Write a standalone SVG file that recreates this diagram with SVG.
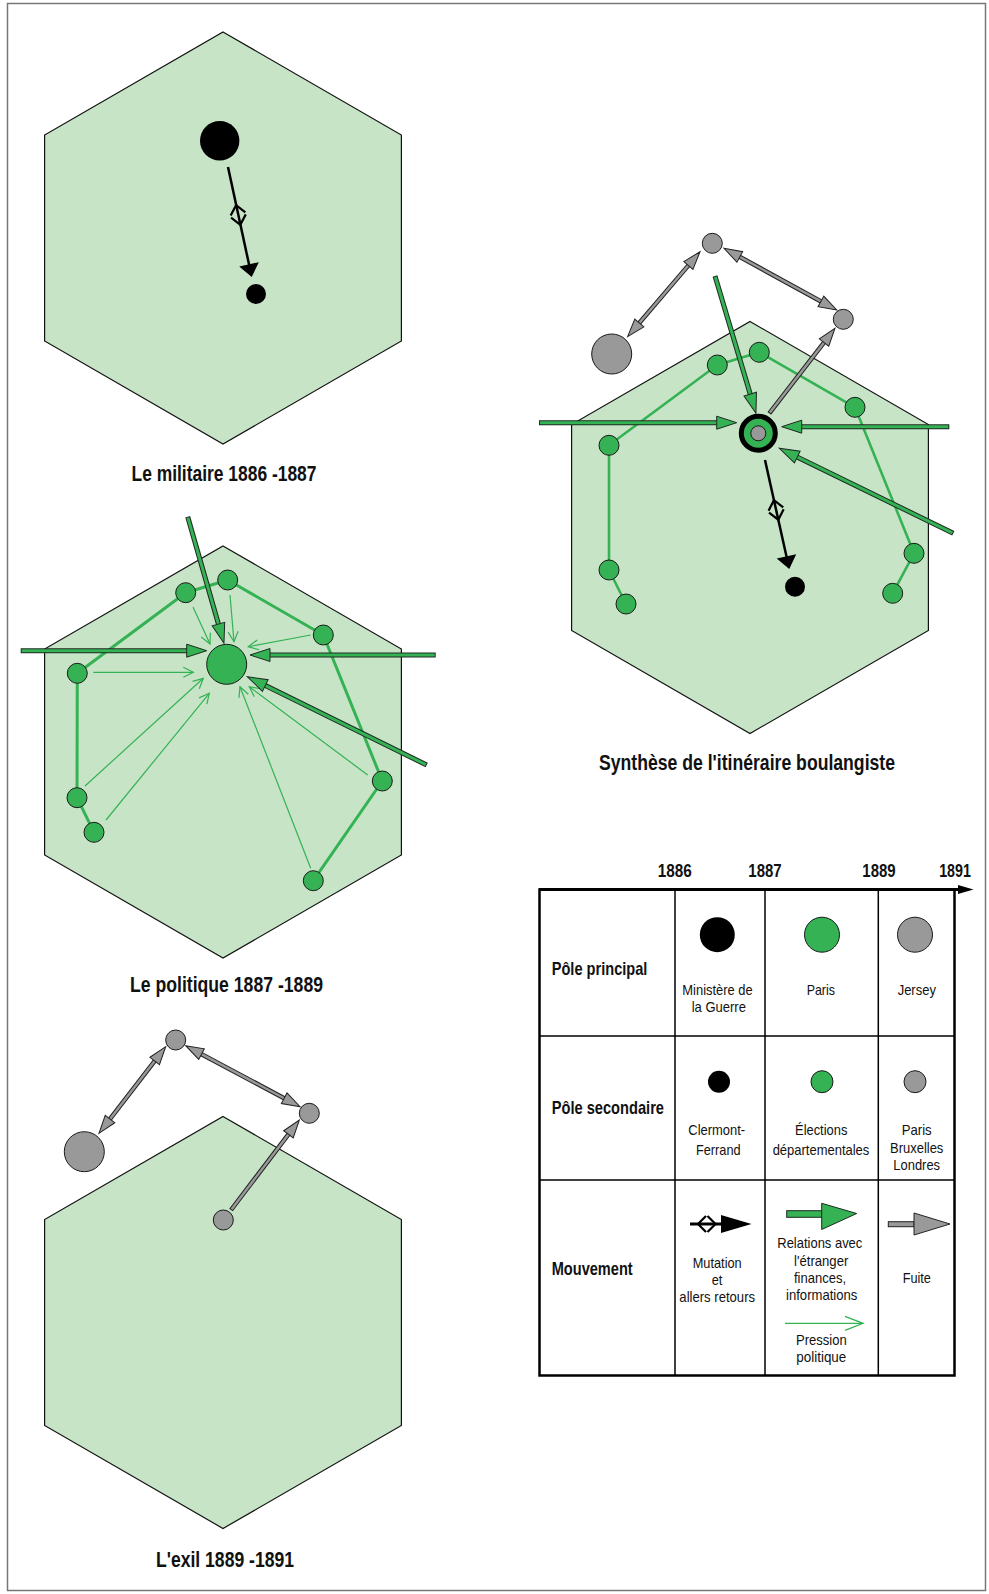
<svg xmlns="http://www.w3.org/2000/svg" width="989" height="1594" viewBox="0 0 989 1594">
<style>
.hex{fill:#c7e4c7;stroke:#111;stroke-width:1.2}
.gpoly{fill:none;stroke:#34b254;stroke-width:3;stroke-linejoin:round}
.gc{fill:#34b254;stroke:#1a1a1a;stroke-width:1}
.gr{fill:#999;stroke:#1a1a1a;stroke-width:1}
.bk{fill:#000}
.thickO{stroke:#1f2a22;stroke-width:5;fill:none}
.thickI{stroke:#34b254;stroke-width:3;fill:none}
.grayO{stroke:#222;stroke-width:4.5;fill:none}
.grayI{stroke:#999;stroke-width:2.5;fill:none}
.thin{stroke:#34b254;stroke-width:1.2;fill:none}
.blk{stroke:#000;stroke-width:2.5;fill:none}
.chev{stroke:#000;stroke-width:2.2;fill:none}
text{font-family:"Liberation Sans",Arial,sans-serif;fill:#111}
.title{font-weight:bold;font-size:22px;text-anchor:middle}
.rowh{font-weight:bold;font-size:18.5px}
.yr{font-weight:bold;font-size:18.5px;text-anchor:middle}
.lbl{font-size:15px;text-anchor:middle}
</style>
<defs>
<marker id="mG" markerUnits="userSpaceOnUse" orient="auto" refX="10" refY="0" markerWidth="30" markerHeight="30" overflow="visible"><path d="M0,-6.5 L20,0 L0,6.5 z" fill="#34b254" stroke="#1f2a22" stroke-width="1"/></marker>
<marker id="mGr" markerUnits="userSpaceOnUse" orient="auto-start-reverse" refX="9" refY="0" markerWidth="30" markerHeight="30" overflow="visible"><path d="M0,-6 L18,0 L0,6 z" fill="#999" stroke="#222" stroke-width="1"/></marker>
<marker id="mB" markerUnits="userSpaceOnUse" orient="auto" refX="9" refY="0" markerWidth="30" markerHeight="30" overflow="visible"><path d="M0,-10 L13,0 L0,10 z" fill="#000"/></marker>
<marker id="mT" markerUnits="userSpaceOnUse" orient="auto" refX="10" refY="0" markerWidth="30" markerHeight="30" overflow="visible"><path d="M0,-5 L10,0 L0,5" fill="none" stroke="#34b254" stroke-width="1.2"/></marker>
</defs>
<rect x="7.5" y="3.5" width="978" height="1587" fill="#fff" stroke="#777" stroke-width="1.5"/>

<!-- Panel 1: Le militaire -->
<g id="panel-militaire">
<polygon class="hex" points="223,32 401.4,135 401.4,341 223,444 44.6,341 44.6,135"/>
<g id="m-connectors">
<line class="blk" x1="228" y1="167" x2="250.9" y2="273.1" marker-end="url(#mB)"/>
<g transform="translate(238,214) rotate(77.8)"><path class="chev" d="M0,-7.5 L-9,0 L0,7.5 M2,-7.5 L11,0 L2,7.5"/></g>
</g>
<circle id="m-ministere" class="bk" cx="219.7" cy="140.7" r="19.7"/>
<circle id="m-clermont" class="bk" cx="256" cy="294" r="10"/>
<text class="title" x="224" y="481" textLength="185" lengthAdjust="spacingAndGlyphs">Le militaire 1886 -1887</text>
</g>

<!-- Panel 2: Le politique -->
<g id="panel-politique">
<polygon class="hex" points="223,546 401.4,649 401.4,855 223,958 44.6,855 44.6,649"/>
<polyline class="gpoly" points="94,832.3 77,797.7 77.3,673.3 185.7,592.7 227.7,580 323.3,635 382.3,781 313.3,880.7"/>
<g id="p-connectors">
<line class="thin" x1="193" y1="607" x2="210" y2="644" marker-end="url(#mT)"/>
<line class="thin" x1="230" y1="595" x2="234" y2="641.7" marker-end="url(#mT)"/>
<line class="thin" x1="310.7" y1="635" x2="248.3" y2="646.7" marker-end="url(#mT)"/>
<line class="thin" x1="93.3" y1="672.3" x2="193.3" y2="672.3" marker-end="url(#mT)"/>
<line class="thin" x1="85" y1="786" x2="203.3" y2="678.3" marker-end="url(#mT)"/>
<line class="thin" x1="106" y1="820" x2="209.3" y2="693.3" marker-end="url(#mT)"/>
<line class="thin" x1="367.7" y1="775" x2="249.3" y2="686.7" marker-end="url(#mT)"/>
<line class="thin" x1="310.7" y1="868.3" x2="240" y2="686.7" marker-end="url(#mT)"/>
<line class="thickO" x1="187.7" y1="516.7" x2="221.2" y2="633.7"/>
<line class="thickI" x1="187.9" y1="517.6" x2="221.2" y2="633.7" marker-end="url(#mG)"/>
<line class="thickO" x1="20.7" y1="650.7" x2="196.7" y2="650.7"/>
<line class="thickI" x1="21.7" y1="650.7" x2="196.7" y2="650.7" marker-end="url(#mG)"/>
<line class="thickO" x1="435.7" y1="655" x2="260" y2="655"/>
<line class="thickI" x1="434.7" y1="655" x2="260" y2="655" marker-end="url(#mG)"/>
<line class="thickO" x1="426.7" y1="765" x2="256.3" y2="681.1"/>
<line class="thickI" x1="425.8" y1="764.6" x2="256.3" y2="681.1" marker-end="url(#mG)"/>
</g>
<circle id="p-paris" class="gc" cx="226.7" cy="664.3" r="20"/>
<circle class="gc" cx="185.7" cy="592.7" r="10"/>
<circle class="gc" cx="227.7" cy="580" r="10"/>
<circle class="gc" cx="323.3" cy="635" r="10"/>
<circle class="gc" cx="77.3" cy="673.3" r="10"/>
<circle class="gc" cx="77" cy="797.7" r="10"/>
<circle class="gc" cx="94" cy="832.3" r="10"/>
<circle class="gc" cx="382.3" cy="781" r="10"/>
<circle class="gc" cx="313.3" cy="880.7" r="10"/>
<text class="title" x="226.5" y="992" textLength="193" lengthAdjust="spacingAndGlyphs">Le politique 1887 -1889</text>
</g>

<!-- Panel 3: Synthese -->
<g id="panel-synthese">
<polygon class="hex" points="750,321.5 928.4,424.5 928.4,630.5 750,733.5 571.6,630.5 571.6,424.5"/>
<polyline class="gpoly" style="stroke-width:2.6" points="626,604 609,570 609,445.3 717.3,365 759.3,352.3 855,407.3 914,553.3 892.7,593.3"/>
<g id="s-connectors">
<line class="grayO" x1="633.5" y1="329.8" x2="694.2" y2="258.6"/>
<line class="grayI" x1="633.5" y1="329.8" x2="694.2" y2="258.6" marker-start="url(#mGr)" marker-end="url(#mGr)"/>
<line class="grayO" x1="731.9" y1="252.6" x2="828.8" y2="305.7"/>
<line class="grayI" x1="731.9" y1="252.6" x2="828.8" y2="305.7" marker-start="url(#mGr)" marker-end="url(#mGr)"/>
<line class="grayO" x1="769.3" y1="413.3" x2="829.5" y2="335.4"/>
<line class="grayI" x1="769.9" y1="412.5" x2="829.5" y2="335.4" marker-end="url(#mGr)"/>
<line class="thickO" x1="715" y1="276" x2="753.1" y2="403.7"/>
<line class="thickI" x1="715.3" y1="277" x2="753.1" y2="403.7" marker-end="url(#mG)"/>
<line class="thickO" x1="539" y1="422.7" x2="726.7" y2="422.7"/>
<line class="thickI" x1="540" y1="422.7" x2="726.7" y2="422.7" marker-end="url(#mG)"/>
<line class="thickO" x1="949.3" y1="426.7" x2="791.7" y2="426.7"/>
<line class="thickI" x1="948.3" y1="426.7" x2="791.7" y2="426.7" marker-end="url(#mG)"/>
<line class="thickO" x1="953.3" y1="533.3" x2="788.3" y2="452.7"/>
<line class="thickI" x1="952.4" y1="532.9" x2="788.3" y2="452.7" marker-end="url(#mG)"/>
<line class="blk" x1="765" y1="460" x2="788.4" y2="565.1" marker-end="url(#mB)"/>
<g transform="translate(775.9,509) rotate(77.4)"><path class="chev" d="M0,-7.5 L-9,0 L0,7.5 M2,-7.5 L11,0 L2,7.5"/></g>
</g>
<circle class="gr" cx="712.3" cy="243.3" r="10"/>
<circle class="gr" cx="843.3" cy="319.3" r="10"/>
<circle class="gr" cx="611.7" cy="354" r="20"/>
<circle class="gc" cx="717.3" cy="365" r="10"/>
<circle class="gc" cx="759.3" cy="352.3" r="10"/>
<circle class="gc" cx="855" cy="407.3" r="10"/>
<circle class="gc" cx="609" cy="445.3" r="10"/>
<circle class="gc" cx="609" cy="570" r="10"/>
<circle class="gc" cx="626" cy="604" r="10"/>
<circle class="gc" cx="914" cy="553.3" r="10"/>
<circle class="gc" cx="892.7" cy="593.3" r="10"/>
<g id="s-center">
<circle cx="758.3" cy="433.3" r="17" fill="#34b254" stroke="#000" stroke-width="5"/>
<circle class="gr" cx="758.3" cy="433.3" r="7.5"/>
</g>
<circle class="bk" cx="795" cy="586.7" r="10"/>
<text class="title" x="747" y="770" textLength="296" lengthAdjust="spacingAndGlyphs">Synthèse de l'itinéraire boulangiste</text>
</g>

<!-- Panel 4: L'exil -->
<g id="panel-exil">
<polygon class="hex" points="223,1116.5 401.4,1219.5 401.4,1425.5 223,1528.5 44.6,1425.5 44.6,1219.5"/>
<g id="e-connectors">
<line class="grayO" x1="104.5" y1="1126.2" x2="160.2" y2="1053.8"/>
<line class="grayI" x1="104.5" y1="1126.2" x2="160.2" y2="1053.8" marker-start="url(#mGr)" marker-end="url(#mGr)"/>
<line class="grayO" x1="193.6" y1="1049.9" x2="292.1" y2="1102.5"/>
<line class="grayI" x1="193.6" y1="1049.9" x2="292.1" y2="1102.5" marker-start="url(#mGr)" marker-end="url(#mGr)"/>
<line class="grayO" x1="231" y1="1210" x2="293.9" y2="1127.2"/>
<line class="grayI" x1="231.6" y1="1209.2" x2="293.9" y2="1127.2" marker-end="url(#mGr)"/>
</g>
<circle class="gr" cx="175.7" cy="1040" r="10"/>
<circle class="gr" cx="309.3" cy="1113.3" r="10"/>
<circle class="gr" cx="84.3" cy="1151.7" r="20"/>
<circle class="gr" cx="223.3" cy="1220" r="10"/>
<text class="title" x="225" y="1567" textLength="138" lengthAdjust="spacingAndGlyphs">L'exil 1889 -1891</text>
</g>

<!-- Legend -->
<g id="legend">
<text class="yr" x="674.7" y="877.3" textLength="34" lengthAdjust="spacingAndGlyphs">1886</text>
<text class="yr" x="765" y="877.3" textLength="33.3" lengthAdjust="spacingAndGlyphs">1887</text>
<text class="yr" x="879" y="877.3" textLength="33.3" lengthAdjust="spacingAndGlyphs">1889</text>
<text class="yr" x="955" y="877.3" textLength="31.7" lengthAdjust="spacingAndGlyphs">1891</text>
<rect x="539.5" y="889.5" width="415" height="486" fill="none" stroke="#000" stroke-width="2.5"/>
<line x1="539" y1="889.5" x2="960" y2="889.5" stroke="#000" stroke-width="3"/>
<polygon points="958,885 973.5,889.5 958,894" fill="#000"/>
<g stroke="#000" stroke-width="1.5">
<line x1="675" y1="889.5" x2="675" y2="1375.5"/>
<line x1="765" y1="889.5" x2="765" y2="1375.5"/>
<line x1="878.3" y1="889.5" x2="878.3" y2="1375.5"/>
<line x1="539.5" y1="1036" x2="954.5" y2="1036"/>
<line x1="539.5" y1="1180" x2="954.5" y2="1180"/>
</g>
<text class="rowh" x="551.7" y="975" textLength="95.7" lengthAdjust="spacingAndGlyphs">Pôle principal</text>
<text class="rowh" x="551.7" y="1114" textLength="112.3" lengthAdjust="spacingAndGlyphs">Pôle secondaire</text>
<text class="rowh" x="551.7" y="1275" textLength="81" lengthAdjust="spacingAndGlyphs">Mouvement</text>

<circle class="bk" cx="717.3" cy="934.7" r="17.5"/>
<circle class="gc" cx="822" cy="934.7" r="17.5"/>
<circle class="gr" cx="915" cy="934.7" r="17.5"/>
<text class="lbl" x="717.5" y="995" textLength="70.3" lengthAdjust="spacingAndGlyphs">Ministère de</text>
<text class="lbl" x="718.8" y="1011.7" textLength="54.3" lengthAdjust="spacingAndGlyphs">la Guerre</text>
<text class="lbl" x="820.8" y="995" textLength="28.3" lengthAdjust="spacingAndGlyphs">Paris</text>
<text class="lbl" x="916.8" y="995" textLength="38.3" lengthAdjust="spacingAndGlyphs">Jersey</text>

<circle class="bk" cx="719" cy="1081.7" r="11"/>
<circle class="gc" cx="822" cy="1081.7" r="11"/>
<circle class="gr" cx="915" cy="1081.7" r="11"/>
<text class="lbl" x="716.7" y="1135" textLength="56.7" lengthAdjust="spacingAndGlyphs">Clermont-</text>
<text class="lbl" x="718.3" y="1154.5" textLength="44.7" lengthAdjust="spacingAndGlyphs">Ferrand</text>
<text class="lbl" x="821.2" y="1135" textLength="52.3" lengthAdjust="spacingAndGlyphs">Élections</text>
<text class="lbl" x="821" y="1154.5" textLength="96.7" lengthAdjust="spacingAndGlyphs">départementales</text>
<text class="lbl" x="916.7" y="1135" textLength="30" lengthAdjust="spacingAndGlyphs">Paris</text>
<text class="lbl" x="916.7" y="1152.7" textLength="53.3" lengthAdjust="spacingAndGlyphs">Bruxelles</text>
<text class="lbl" x="916.7" y="1170" textLength="46.7" lengthAdjust="spacingAndGlyphs">Londres</text>

<line x1="690" y1="1224" x2="728" y2="1224" stroke="#000" stroke-width="3"/>
<polygon points="721,1215 751.5,1224 721,1233" fill="#000"/>
<path class="chev" d="M706,1216 L698,1224 L706,1232 M707.5,1216 L715.5,1224 L707.5,1232"/>
<text class="lbl" x="717.2" y="1268.3" textLength="49" lengthAdjust="spacingAndGlyphs">Mutation</text>
<text class="lbl" x="717" y="1285" textLength="10.7" lengthAdjust="spacingAndGlyphs">et</text>
<text class="lbl" x="717.2" y="1301.7" textLength="75.7" lengthAdjust="spacingAndGlyphs">allers retours</text>

<rect x="786.7" y="1210.7" width="35" height="6.6" fill="#34b254" stroke="#1f2a22" stroke-width="1"/>
<polygon points="821.7,1203.3 856.7,1213.5 821.7,1229.5" fill="#34b254" stroke="#1f2a22" stroke-width="1"/>
<text class="lbl" x="819.8" y="1248.3" textLength="85" lengthAdjust="spacingAndGlyphs">Relations avec</text>
<text class="lbl" x="821.2" y="1266" textLength="54.3" lengthAdjust="spacingAndGlyphs">l'étranger</text>
<text class="lbl" x="820" y="1283.3" textLength="52" lengthAdjust="spacingAndGlyphs">finances,</text>
<text class="lbl" x="821.7" y="1300" textLength="71.3" lengthAdjust="spacingAndGlyphs">informations</text>
<line x1="785" y1="1323.3" x2="862.5" y2="1323.3" stroke="#34b254" stroke-width="1.3"/>
<path d="M845,1316.3 L863,1323.3 L845,1330.3" fill="none" stroke="#34b254" stroke-width="1.3"/>
<text class="lbl" x="821.3" y="1345" textLength="50.7" lengthAdjust="spacingAndGlyphs">Pression</text>
<text class="lbl" x="821.3" y="1362" textLength="50" lengthAdjust="spacingAndGlyphs">politique</text>

<rect x="888.3" y="1221.7" width="25.7" height="5" fill="#999" stroke="#222" stroke-width="1"/>
<polygon points="914,1213 950,1224 914,1235" fill="#999" stroke="#222" stroke-width="1"/>
<text class="lbl" x="916.8" y="1283.3" textLength="28.3" lengthAdjust="spacingAndGlyphs">Fuite</text>
</g>
</svg>
